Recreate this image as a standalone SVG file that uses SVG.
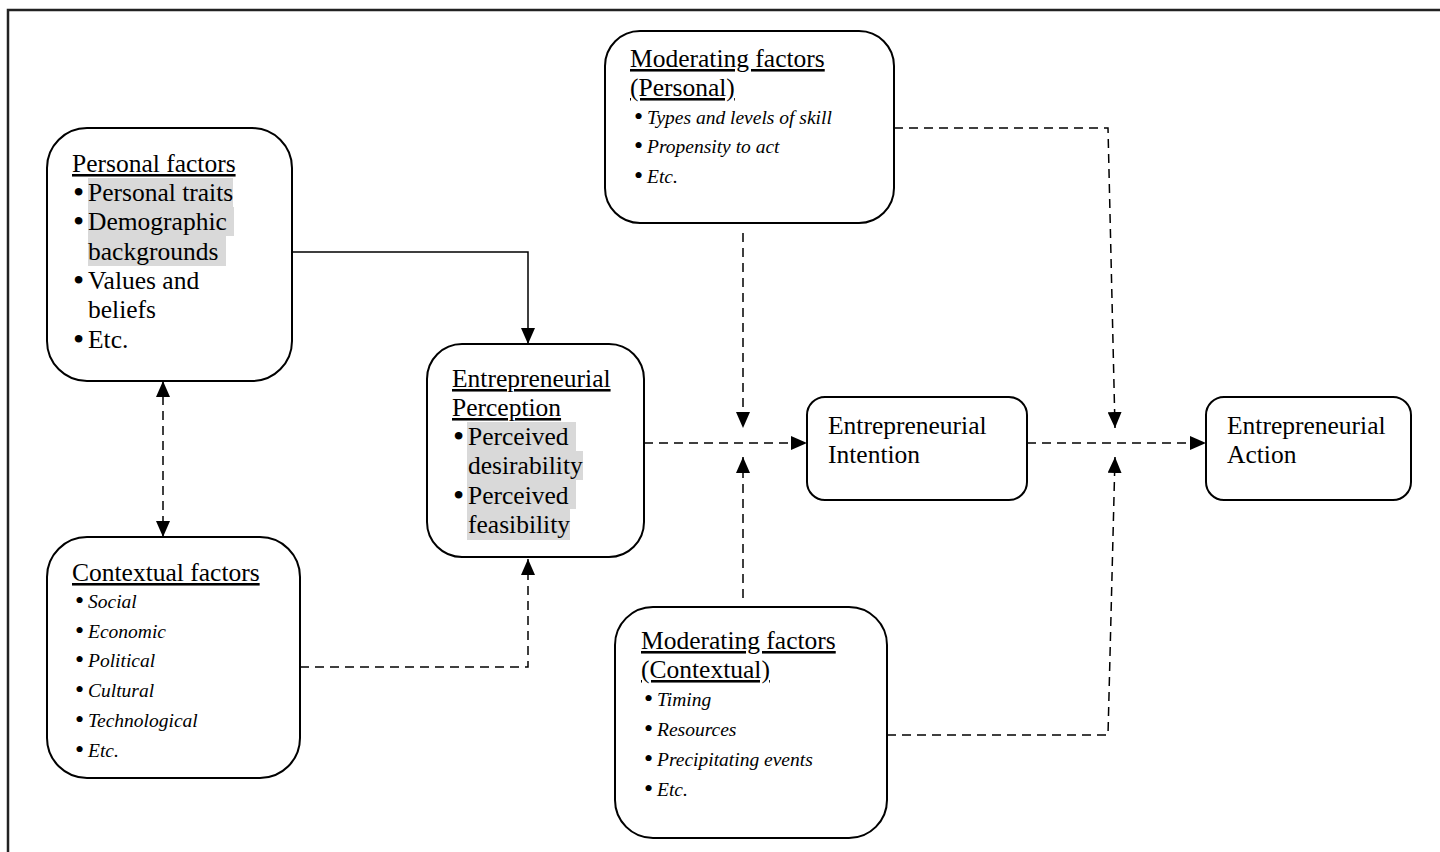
<svg xmlns="http://www.w3.org/2000/svg" width="1440" height="852" viewBox="0 0 1440 852">
<style>
.box{fill:#fff;stroke:#000;stroke-width:2}
.t{font-family:"Liberation Serif","Times New Roman",serif;font-size:25.5px;fill:#000}
.u{text-decoration:underline}
.i{font-family:"Liberation Serif","Times New Roman",serif;font-size:19.5px;font-style:italic;fill:#000}
.b{font-size:32px;font-style:normal}
.bs{font-size:26px;font-style:normal}
.hl{fill:#d9d9d9}
.c{fill:none;stroke:#000;stroke-width:1.5}
.d{stroke-dasharray:9 6}
</style>
<defs>
<marker id="ah" viewBox="0 0 16 14" refX="16" refY="7" markerWidth="16" markerHeight="14" markerUnits="userSpaceOnUse" orient="auto-start-reverse">
<path d="M0,0 L16,7 L0,14 Z" fill="#000"/>
</marker>
</defs>
<rect width="1440" height="852" fill="#fff"/>
<path d="M8,852 V10 H1440" fill="none" stroke="#222" stroke-width="2.5"/>

<g id="connectors">
<path class="c" d="M292,252 H528 V344" marker-end="url(#ah)"/>
<path class="c d" d="M163,381 V537" marker-start="url(#ah)" marker-end="url(#ah)"/>
<path class="c d" d="M300,667 H528 V559" marker-end="url(#ah)"/>
<path class="c d" d="M644,443 H807" marker-end="url(#ah)"/>
<path class="c d" d="M743,233 V428" marker-end="url(#ah)"/>
<path class="c d" d="M743,598 V457" marker-end="url(#ah)"/>
<path class="c d" d="M894,128 H1108 L1115,428" marker-end="url(#ah)"/>
<path class="c d" d="M887,735 H1108 L1115,457" marker-end="url(#ah)"/>
<path class="c d" d="M1027,443 H1206" marker-end="url(#ah)"/>
</g>

<g id="personal-factors">
<rect class="box" x="47" y="128" width="245" height="253" rx="40"/>
<rect class="hl" x="88" y="178" width="145" height="29"/>
<rect class="hl" x="88" y="207" width="146" height="29"/>
<rect class="hl" x="88" y="236" width="138" height="30"/>
<text class="t u" x="72" y="172">Personal factors</text>
<text class="t"><tspan class="b" x="73" y="203">•</tspan><tspan x="88" y="201">Personal traits</tspan></text>
<text class="t"><tspan class="b" x="73" y="232">•</tspan><tspan x="88" y="230">Demographic</tspan></text>
<text class="t" x="88" y="260">backgrounds</text>
<text class="t"><tspan class="b" x="73" y="291">•</tspan><tspan x="88" y="289">Values and</tspan></text>
<text class="t" x="88" y="318">beliefs</text>
<text class="t"><tspan class="b" x="73" y="350">•</tspan><tspan x="88" y="348">Etc.</tspan></text>
</g>

<g id="contextual-factors">
<rect class="box" x="47" y="537" width="253" height="241" rx="40"/>
<text class="t u" x="72" y="581">Contextual factors</text>
<text class="i"><tspan class="bs" x="75" y="609">•</tspan><tspan x="88" y="608">Social</tspan></text>
<text class="i"><tspan class="bs" x="75" y="639">•</tspan><tspan x="88" y="638">Economic</tspan></text>
<text class="i"><tspan class="bs" x="75" y="668">•</tspan><tspan x="88" y="667">Political</tspan></text>
<text class="i"><tspan class="bs" x="75" y="698">•</tspan><tspan x="88" y="697">Cultural</tspan></text>
<text class="i"><tspan class="bs" x="75" y="728">•</tspan><tspan x="88" y="727">Technological</tspan></text>
<text class="i"><tspan class="bs" x="75" y="758">•</tspan><tspan x="88" y="757">Etc.</tspan></text>
</g>

<g id="entrepreneurial-perception">
<rect class="box" x="427" y="344" width="217" height="213" rx="35"/>
<rect class="hl" x="467" y="422" width="109" height="29"/>
<rect class="hl" x="467" y="451" width="116" height="29"/>
<rect class="hl" x="467" y="480" width="109" height="29"/>
<rect class="hl" x="467" y="509" width="103" height="31"/>
<text class="t u" x="452" y="387">Entrepreneurial</text>
<text class="t u" x="452" y="416">Perception</text>
<text class="t"><tspan class="b" x="453" y="447">•</tspan><tspan x="468" y="445">Perceived</tspan></text>
<text class="t" x="468" y="474">desirability</text>
<text class="t"><tspan class="b" x="453" y="506">•</tspan><tspan x="468" y="504">Perceived</tspan></text>
<text class="t" x="468" y="533">feasibility</text>
</g>

<g id="moderating-personal">
<rect class="box" x="605" y="31" width="289" height="192" rx="35"/>
<text class="t u" x="630" y="67">Moderating factors</text>
<text class="t u" x="630" y="96">(Personal)</text>
<text class="i"><tspan class="bs" x="634" y="125">•</tspan><tspan x="647" y="124">Types and levels of skill</tspan></text>
<text class="i"><tspan class="bs" x="634" y="154">•</tspan><tspan x="647" y="153">Propensity to act</tspan></text>
<text class="i"><tspan class="bs" x="634" y="184">•</tspan><tspan x="647" y="183">Etc.</tspan></text>
</g>

<g id="moderating-contextual">
<rect class="box" x="615" y="607" width="272" height="231" rx="38"/>
<text class="t u" x="641" y="649">Moderating factors</text>
<text class="t u" x="641" y="678">(Contextual)</text>
<text class="i"><tspan class="bs" x="644" y="707">•</tspan><tspan x="657" y="706">Timing</tspan></text>
<text class="i"><tspan class="bs" x="644" y="737">•</tspan><tspan x="657" y="736">Resources</tspan></text>
<text class="i"><tspan class="bs" x="644" y="767">•</tspan><tspan x="657" y="766">Precipitating events</tspan></text>
<text class="i"><tspan class="bs" x="644" y="797">•</tspan><tspan x="657" y="796">Etc.</tspan></text>
</g>

<g id="entrepreneurial-intention">
<rect class="box" x="807" y="397" width="220" height="103" rx="18"/>
<text class="t" x="828" y="434">Entrepreneurial</text>
<text class="t" x="828" y="463">Intention</text>
</g>

<g id="entrepreneurial-action">
<rect class="box" x="1206" y="397" width="205" height="103" rx="18"/>
<text class="t" x="1227" y="434">Entrepreneurial</text>
<text class="t" x="1227" y="463">Action</text>
</g>
</svg>
